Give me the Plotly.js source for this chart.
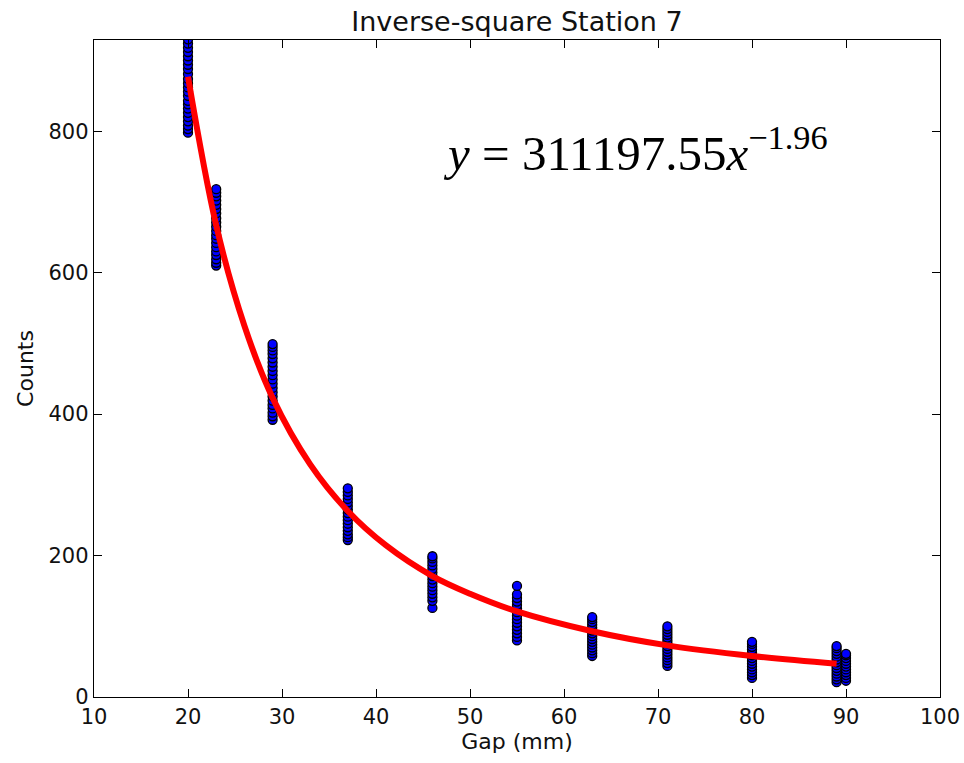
<!DOCTYPE html>
<html>
<head>
<meta charset="utf-8">
<script src="https://cdn.plot.ly/plotly-3.0.1.min.js"></script>
<style>html,body{margin:0;padding:0;background:#fff;}</style>
</head>
<body>
<div id="chart" style="width:964px;height:763px;"></div>
<script>
// Measured counts per gap (mm)
const gap20 = [798, 803, 808, 814, 820, 826, 832, 838, 843, 850, 856, 862, 868, 874, 881, 888, 894, 900, 906, 912, 918, 924, 930];
const gap23 = [610, 614, 619, 625, 630, 636, 642, 648, 653, 659, 665, 671, 677, 684, 690, 696, 702, 708, 713, 718];
const gap29 = [392, 397, 402, 408, 413, 419, 425, 431, 437, 443, 449, 455, 461, 467, 473, 479, 485, 490, 495, 499];
const gap37 = [222, 226, 230, 235, 240, 245, 250, 255, 260, 265, 270, 275, 280, 285, 290, 295];
const gap46 = [126, 136, 141, 146, 151, 156, 161, 166, 171, 176, 181, 186, 191, 196, 199];
const gap55 = [80, 85, 90, 95, 100, 105, 110, 115, 120, 125, 130, 135, 140, 145, 157];
const gap63 = [58, 62, 66, 70, 74, 78, 82, 86, 90, 94, 98, 102, 106, 110, 113];
const gap71 = [44, 48, 52, 56, 60, 64, 68, 72, 76, 80, 84, 88, 92, 96, 100];
const gap80 = [27, 31, 35, 39, 43, 47, 51, 55, 59, 63, 67, 71, 75, 78];
const gap89 = [21, 25, 29, 33, 37, 41, 45, 49, 53, 57, 61, 65, 69, 72];
const gap90 = [23, 27, 31, 35, 39, 43, 47, 51, 55, 59, 61];

const gapValues = [20, 23, 29, 37, 46, 55, 63, 71, 80, 89, 90];
const countSets = [gap20, gap23, gap29, gap37, gap46, gap55, gap63, gap71, gap80, gap89, gap90];

// Fit curve values
const fitX = [20, 23, 26, 29, 33, 37, 41, 46, 50, 55, 63, 71, 80, 89];
const fitY = [877, 667, 525, 423, 329, 263, 215, 171, 146, 121, 93, 73, 58, 47];

const xTicks = [10, 20, 30, 40, 50, 60, 70, 80, 90, 100];
const yTicks = [0, 200, 400, 600, 800];

const titleText = 'Inverse-square Station 7';
const xTitle = 'Gap (mm)';
const yTitle = 'Counts';
const equationText = '<i>y</i> = 311197.55<i>x</i><sup>\u22121.96</sup>';

const sx = [], sy = [];
countSets.forEach((arr, i) => arr.forEach(v => { sx.push(gapValues[i]); sy.push(v); }));

const traces = [
  {
    type: 'scatter', mode: 'markers', x: sx, y: sy,
    marker: {color: '#0000ff', size: 9, line: {color: '#000000', width: 1.3}},
    hoverinfo: 'skip', showlegend: false
  },
  {
    type: 'scatter', mode: 'lines', x: fitX, y: fitY,
    line: {color: '#ff0000', width: 6, shape: 'spline'},
    hoverinfo: 'skip', showlegend: false
  }
];

const axisCommon = {
  showgrid: false, zeroline: false, showline: true, linecolor: '#000', linewidth: 1.3,
  mirror: 'allticks', ticks: 'inside', ticklen: 8, tickwidth: 1, tickcolor: '#000',
  tickfont: {family: 'DejaVu Sans', size: 21, color: '#111'}
};

const layout = {
  width: 964, height: 763,
  margin: {l: 94, r: 24, t: 40, b: 66},
  paper_bgcolor: '#fff', plot_bgcolor: '#fff',
  title: {text: titleText, font: {family: 'DejaVu Sans', size: 27, color: '#111'}, x: 0.5, xref: 'paper', y: 0.972, yanchor: 'middle'},
  xaxis: Object.assign({}, axisCommon, {
    range: [10, 100], tickvals: xTicks, ticktext: xTicks.map(String),
    title: {text: xTitle, font: {family: 'DejaVu Sans', size: 22, color: '#111'}, standoff: 5}
  }),
  yaxis: Object.assign({}, axisCommon, {
    range: [0, 929], tickvals: yTicks, ticktext: yTicks.map(String),
    title: {text: yTitle, font: {family: 'DejaVu Sans', size: 22, color: '#111'}, standoff: 8}
  }),
  annotations: [{
    text: equationText, xref: 'paper', yref: 'paper', x: 0.41, y: 0.833,
    xanchor: 'left', yanchor: 'middle', showarrow: false,
    font: {family: 'Liberation Serif', size: 49, color: '#000'}
  }]
};

Plotly.newPlot('chart', traces, layout, {displayModeBar: false, staticPlot: true});
</script>
</body>
</html>
